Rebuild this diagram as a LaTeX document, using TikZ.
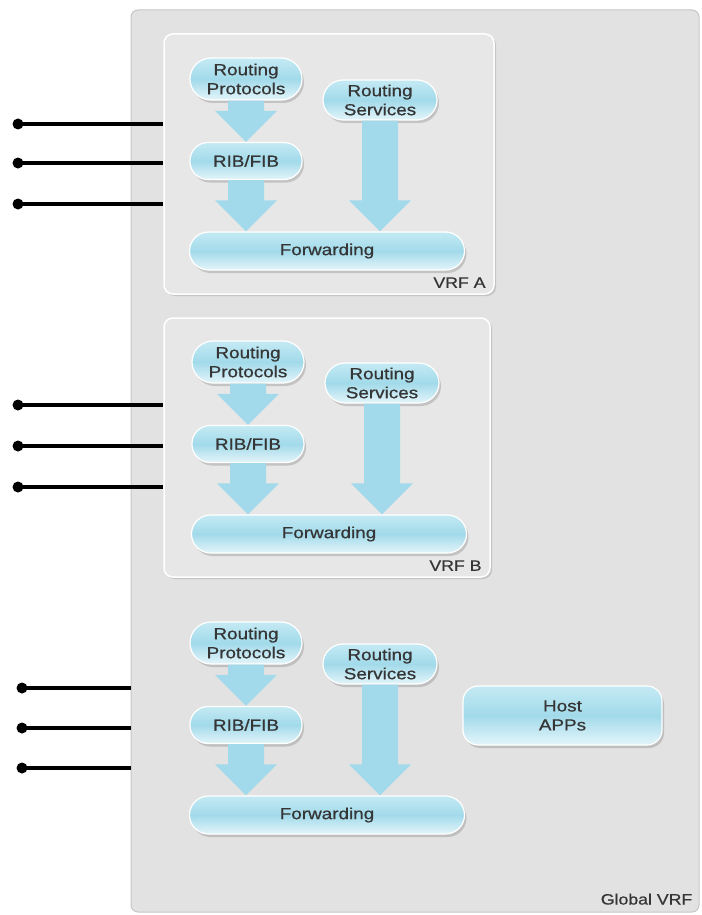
\documentclass[tikz,border=0pt]{standalone}
\usepackage{fontspec}
\setmainfont{Liberation Sans}
\newfontfamily\lblfont[FakeBold=0.6]{Liberation Sans}
\usetikzlibrary{calc,shadows}
\definecolor{txt}{HTML}{353535}
\definecolor{pilltop}{HTML}{C4EAF4}
\definecolor{pillmid}{HTML}{A2DAEA}
\definecolor{pillbot}{HTML}{E4F5FA}
\definecolor{arrowblue}{HTML}{A3DAEB}
\definecolor{globalfill}{HTML}{E2E2E2}
\definecolor{globalline}{HTML}{C6C6C6}
\definecolor{vrffill}{HTML}{E7E7E7}
\newcommand\wide[1]{\scalebox{1.18}[1]{#1}}
\newcommand\fatarrow[2]{%
  \fill[arrowblue] let \p1=(#1.south), \p2=(#2.north) in
    (\x1-18pt,\y1) -- (\x1+18pt,\y1) -- (\x1+18pt,\y2+31pt) -- (\x1+31pt,\y2+31pt)
    -- (\x1,\y2) -- (\x1-31pt,\y2+31pt) -- (\x1-18pt,\y2+31pt) -- cycle;}
\tikzset{
  pill/.style={draw=white, line width=1.2pt, rounded corners=#1,
    top color=pilltop, bottom color=pillbot, middle color=pillmid,
    drop shadow={opacity=0.35, shadow xshift=2pt, shadow yshift=-3pt},
    text=txt, font=\lblfont\fontsize{16}{19}\selectfont, align=center, inner sep=0pt},
  pill/.default=18pt,
  vrfbox/.style={draw=white, line width=1.5pt, fill=vrffill, rounded corners=9pt,
    drop shadow={opacity=0.3, shadow xshift=2pt, shadow yshift=-2pt}},
  boxlabel/.style={text=txt, font=\lblfont\fontsize{15}{18}\selectfont, anchor=base east, inner sep=0pt},
  portdot/.style={circle, fill=black, minimum size=11pt, inner sep=0pt},
  portline/.style={line width=3.5pt, black},
}
\begin{document}
\begin{tikzpicture}[x=1pt,y=-1pt]
\useasboundingbox (0,0) rectangle (701,915);
% global VRF frame
\node[draw=globalline, line width=1pt, fill=globalfill, rounded corners=7pt,
  minimum width=568pt, minimum height=902pt, inner sep=0pt] (global) at (415,461) {};
\node[boxlabel] (globallbl) at ($(global.south east)+(-7,-8)$) {\wide{Global VRF}};
% VRF frames
\node[vrfbox, minimum width=330pt, minimum height=260pt, inner sep=0pt] (vrfa) at (329,164) {};
\node[boxlabel] (vrfalbl) at ($(vrfa.south east)+(-9,-7)$) {\wide{VRF A}};
\node[vrfbox, minimum width=326pt, minimum height=259pt, inner sep=0pt] (vrfb) at (327,447.5) {};
\node[boxlabel] (vrfblbl) at ($(vrfb.south east)+(-9,-7)$) {\wide{VRF B}};
% interface lines
\foreach \i/\y in {1/124,2/163,3/204}{
  \node[portdot] (pa\i) at (18,\y) {};
  \draw[portline] (pa\i.center) -- (pa\i -| vrfa.west);}
\foreach \i/\y in {1/405,2/446,3/487}{
  \node[portdot] (pb\i) at (18,\y) {};
  \draw[portline] (pb\i.center) -- (pb\i -| vrfb.west);}
\foreach \i/\y in {1/688,2/728,3/768}{
  \node[portdot] (pg\i) at (22,\y) {};
  \draw[portline] (pg\i.center) -- (pg\i -| global.west);}
% routing stacks
\foreach \g/\dy/\dx in {a/0/0, b/283/2, g/564/0}{
  \begin{scope}[shift={(\dx,\dy)}]
    \node[pill=21pt, minimum width=112pt, minimum height=42pt] (rp\g) at (246,79) {\wide{Routing}\\\wide{Protocols}};
    \node[pill=20pt, minimum width=114pt, minimum height=40pt] (rs\g) at (380,100) {\wide{Routing}\\\wide{Services}};
    \node[pill, minimum width=112pt, minimum height=37pt] (rib\g) at (246,161) {\wide{RIB/FIB}};
    \node[pill=19pt, minimum width=275pt, minimum height=38pt] (fw\g) at (327,251) {\wide{Forwarding}};
  \end{scope}
  \fatarrow{rp\g}{rib\g}
  \fatarrow{rib\g}{fw\g}
  \fatarrow{rs\g}{fw\g}
}
\node[pill=15pt, minimum width=199pt, minimum height=59pt] (host) at (562.5,715.5) {\wide{Host}\\\wide{APPs}};
\end{tikzpicture}
\end{document}
